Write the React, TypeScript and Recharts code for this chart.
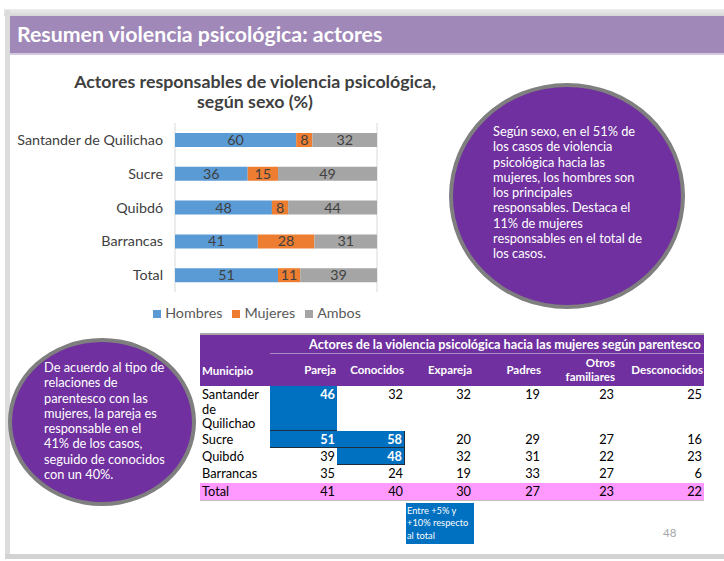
import React from "react";
import {
  Bar,
  BarChart,
  CartesianGrid,
  LabelList,
  Legend,
  XAxis,
  YAxis,
} from "recharts";

const FONT = "Lato, 'Noto Sans', sans-serif";

// chart data
const CATEGORIES = ["Santander de Quilichao", "Sucre", "Quibdó", "Barrancas", "Total"];
const SERIES = ["Hombres", "Mujeres", "Ambos"];
const HOMBRES = [60, 36, 48, 41, 51];
const MUJERES = [8, 15, 8, 28, 11];
const AMBOS = [32, 49, 44, 31, 39];
const X_TICKS = [0, 50, 100];

// table data
const MUNICIPIOS = ["Santander de Quilichao", "Sucre", "Quibdó", "Barrancas", "Total"];
const PARENTESCO = ["Pareja", "Conocidos", "Expareja", "Padres", "Otros familiares", "Desconocidos"];
const PAREJA = [46, 51, 39, 35, 41];
const CONOCIDOS = [32, 58, 48, 24, 40];
const EXPAREJA = [32, 20, 32, 19, 30];
const PADRES = [19, 29, 31, 33, 27];
const OTROS = [23, 27, 22, 27, 23];
const DESCONOCIDOS = [25, 16, 23, 6, 22];
// cells marked "Entre +5% y +10% respecto al total" [row, col]
const HIGHLIGHT = [
  [0, 0],
  [1, 0],
  [1, 1],
  [2, 1],
];

const NOTE_RIGHT = [
  "Según sexo, en el 51% de",
  "los casos de violencia",
  "psicológica hacia las",
  "mujeres, los hombres son",
  "los principales",
  "responsables. Destaca el",
  "11% de mujeres",
  "responsables en el total de",
  "los casos.",
];
const NOTE_LEFT = [
  "De acuerdo al tipo de",
  "relaciones de",
  "parentesco con las",
  "mujeres, la pareja es",
  "responsable en el",
  "41% de los casos,",
  "seguido de conocidos",
  "con un 40%.",
];
const NOTE_KEY = ["Entre +5% y", "+10% respecto", "al total"];

const chartData = CATEGORIES.map((name, i) => ({
  name,
  Hombres: HOMBRES[i],
  Mujeres: MUJERES[i],
  Ambos: AMBOS[i],
}));

const tableCols = [PAREJA, CONOCIDOS, EXPAREJA, PADRES, OTROS, DESCONOCIDOS];
const COL_W = [70, 67, 68, 68, 69, 74, 88];
const ROW_H = [45, 17, 17, 18, 17];

function SexChart() {
  return (
    <BarChart
      width={400}
      height={210}
      data={chartData}
      layout="vertical"
      barSize={14}
      margin={{ top: 5, right: 23, left: 0, bottom: 0 }}
      style={{ fontFamily: FONT }}
    >
      <CartesianGrid horizontal={false} stroke="#d9d9d9" />
      <XAxis
        type="number"
        domain={[0, 100]}
        ticks={X_TICKS}
        allowDataOverflow
        axisLine={false}
        tickLine={false}
        tick={false}
        height={0}
      />
      <YAxis
        type="category"
        dataKey="name"
        width={175}
        axisLine={false}
        tickLine={false}
        tickMargin={6}
        tick={{ fontSize: 14.3, fill: "#404040" }}
      />
      <Legend
        verticalAlign="bottom"
        iconType="square"
        iconSize={8}
        itemSorter={(item: any) => SERIES.indexOf(item.value)}
        wrapperStyle={{ top: 186, left: 147, width: 230, height: 36, fontSize: 14.3 }}
        formatter={(v) => <span style={{ color: "#595959" }}>{v}</span>}
      />
      <Bar dataKey="Hombres" stackId="a" fill="#5b9bd5" isAnimationActive={false}>
        <LabelList dataKey="Hombres" position="center" fill="#404040" fontSize={14.3} />
      </Bar>
      <Bar dataKey="Mujeres" stackId="a" fill="#ed7d31" isAnimationActive={false}>
        <LabelList dataKey="Mujeres" position="center" fill="#404040" fontSize={14.3} />
      </Bar>
      <Bar dataKey="Ambos" stackId="a" fill="#a5a5a5" isAnimationActive={false}>
        <LabelList dataKey="Ambos" position="center" fill="#404040" fontSize={14.3} />
      </Bar>
    </BarChart>
  );
}

function Circle({
  left,
  top,
  w,
  h,
  textLeft,
  textTop,
  lines,
}: {
  left: number;
  top: number;
  w: number;
  h: number;
  textLeft: number;
  textTop: number;
  lines: string[];
}) {
  return (
    <>
      <div
        style={{
          position: "absolute",
          left,
          top,
          width: w,
          height: h,
          borderRadius: "50%",
          background: "#7030a0",
          border: "4px solid #7f7f7f",
          boxSizing: "border-box",
        }}
      />
      <div
        style={{
          position: "absolute",
          left: textLeft,
          top: textTop,
          color: "#fff",
          fontSize: 12.8,
          lineHeight: "15.3px",
          whiteSpace: "nowrap",
        }}
      >
        {lines.map((l) => (
          <div key={l}>{l}</div>
        ))}
      </div>
    </>
  );
}

function Table() {
  const x0 = 200;
  const colX = COL_W.map((_, i) => x0 + COL_W.slice(0, i).reduce((a, b) => a + b, 0));
  const rowY = ROW_H.map((_, i) => 386 + ROW_H.slice(0, i).reduce((a, b) => a + b, 0));
  const isHi = (r: number, c: number) => HIGHLIGHT.some(([hr, hc]) => hr === r && hc === c);
  return (
    <div style={{ position: "absolute", left: 0, top: 0, fontSize: 12 }}>
      {/* header */}
      <div
        style={{
          position: "absolute",
          left: x0,
          top: 333,
          width: 504,
          height: 53,
          background: "#7030a0",
          borderTop: "2px solid #a6a6a6",
          boxSizing: "border-box",
        }}
      />
      <div
        style={{
          position: "absolute",
          left: 270,
          top: 353,
          width: 434,
          height: 1,
          background: "#a98bc8",
        }}
      />
      <div
        style={{
          position: "absolute",
          left: 270,
          top: 336,
          width: 434,
          textAlign: "center",
          color: "#fff",
          fontWeight: 700,
          fontSize: 12.7,
          lineHeight: "16px",
          paddingLeft: 36,
          boxSizing: "border-box",
          whiteSpace: "nowrap",
        }}
      >
        Actores de la violencia psicológica hacia las mujeres según parentesco
      </div>
      <div
        style={{
          position: "absolute",
          left: 202,
          top: 363,
          color: "#fff",
          fontWeight: 700,
          fontSize: 11.5,
          lineHeight: "16px",
        }}
      >
        Municipio
      </div>
      {PARENTESCO.map((p, i) => (
        <div
          key={p}
          style={{
            position: "absolute",
            left: colX[i + 1],
            width: COL_W[i + 1] - 1,
            top: p === "Otros familiares" ? 356 : 363,
            textAlign: "right",
            color: "#fff",
            fontWeight: 700,
            fontSize: 11.5,
            lineHeight: "14px",
          }}
        >
          {p === "Otros familiares" ? (
            <>
              Otros
              <br />
              familiares
            </>
          ) : (
            p
          )}
        </div>
      ))}
      {/* body */}
      <div
        style={{
          position: "absolute",
          left: x0,
          top: 483,
          width: 504,
          height: 18,
          background: "#ff99ff",
          borderBottom: "1px solid #bfbfbf",
          boxSizing: "border-box",
        }}
      />
      {MUNICIPIOS.map((m, r) => (
        <React.Fragment key={m}>
          <div
            style={{
              position: "absolute",
              left: 202,
              top: rowY[r],
              width: 66,
              color: "#000",
              fontSize: 12.8,
              lineHeight: "14.5px",
              paddingTop: 1,
            }}
          >
            {m}
          </div>
          {tableCols.map((col, c) => {
            const hi = isHi(r, c);
            return (
              <div
                key={c}
                style={{
                  position: "absolute",
                  left: colX[c + 1],
                  top: rowY[r],
                  width: COL_W[c + 1],
                  height: ROW_H[r],
                  background: hi ? "#0070c0" : "transparent",
                  borderBottom: hi ? "1px solid #1f2d3d" : "none",
                  borderRight: hi && c === 1 ? "1px solid #1f2d3d" : "none",
                  boxSizing: "border-box",
                  color: hi ? "#fff" : "#000",
                  fontWeight: hi ? 700 : 400,
                  fontSize: 12.8,
                  lineHeight: "14.5px",
                  textAlign: "right",
                  paddingRight: 2,
                  paddingTop: 1,
                }}
              >
                {col[r]}
              </div>
            );
          })}
        </React.Fragment>
      ))}
      <div
        style={{
          position: "absolute",
          left: 406,
          top: 503,
          width: 68,
          height: 41,
          background: "#0070c0",
          color: "#fff",
          fontSize: 9.3,
          lineHeight: "12.3px",
          paddingLeft: 1,
          paddingTop: 2,
          boxSizing: "border-box",
          whiteSpace: "nowrap",
        }}
      >
        {NOTE_KEY.map((l) => (
          <div key={l}>{l}</div>
        ))}
      </div>
    </div>
  );
}

export default function App() {
  return (
    <div
      style={{
        position: "absolute",
        left: 0,
        top: 0,
        width: 724,
        height: 561,
        background: "#fff",
        fontFamily: FONT,
        overflow: "hidden",
      }}
    >
      {/* slide frame */}
      <div style={{ position: "absolute", left: 4, top: 9, width: 720, height: 7, background: "linear-gradient(#ececec, #d6d6d6)" }} />
      <div style={{ position: "absolute", left: 5, top: 10, width: 5, height: 549, background: "#dcdcdc" }} />
      <div style={{ position: "absolute", left: 5, top: 554, width: 719, height: 5, background: "#d3d3d3" }} />
      <div style={{ position: "absolute", left: 10, top: 16, width: 714, height: 37, background: "#a088b8" }} />
      <div style={{ position: "absolute", left: 10, top: 53, width: 714, height: 2, background: "#d3c8e2" }} />
      <div
        style={{
          position: "absolute",
          left: 17,
          top: 21,
          color: "#fff",
          fontWeight: 700,
          fontSize: 21.3,
          lineHeight: "26px",
        }}
      >
        Resumen violencia psicológica: actores
      </div>

      {/* chart title */}
      <div
        style={{
          position: "absolute",
          left: 55,
          top: 71,
          width: 400,
          textAlign: "center",
          color: "#404040",
          fontWeight: 700,
          fontSize: 17.8,
          lineHeight: "20px",
        }}
      >
        Actores responsables de violencia psicológica,
        <br />
        según sexo (%)
      </div>

      <div style={{ position: "absolute", left: 0, top: 118 }}>
        <SexChart />
      </div>

      <Circle left={449} top={83} w={236} h={226} textLeft={493} textTop={124} lines={NOTE_RIGHT} />
      <Circle left={8} top={338} w={188} h={168} textLeft={44} textTop={360} lines={NOTE_LEFT} />

      <Table />

      <div style={{ position: "absolute", left: 663, top: 526, color: "#a6a6a6", fontSize: 11.5 }}>48</div>
    </div>
  );
}
